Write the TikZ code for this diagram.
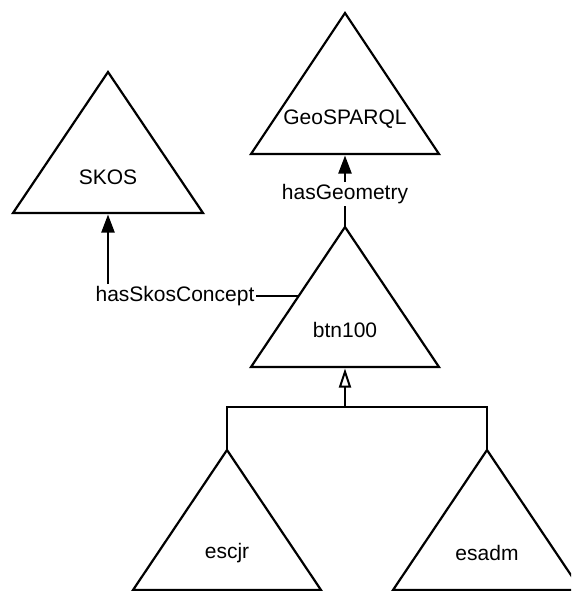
\documentclass[tikz,border=0pt]{standalone}
\usepackage{fontspec}
\setmainfont{Liberation Sans}
\usetikzlibrary{arrows.meta}
\begin{document}
\begin{tikzpicture}[x=1pt,y=-1pt,
  line width=2.2pt, line join=miter,
  tri/.style={draw=black, line width=2.2pt},
  lbl/.style={font=\fontsize{21}{25}\selectfont, inner sep=1pt},
  assoc/.style={-{Triangle[length=18pt,width=13pt]}},
  gen/.style={-{Triangle[open,length=19pt,width=12pt,line width=2pt]}}]
  \useasboundingbox (0,0) rectangle (571,591);
  \clip (0,0) rectangle (571,591);

  % triangles (apex, base corners)
  \draw[tri] (108,72) -- (203,213) -- (13,213) -- cycle;
  \draw[tri] (345,13) -- (439,154) -- (251,154) -- cycle;
  \draw[tri] (345,227) -- (439,367) -- (251,367) -- cycle;
  \draw[tri] (227,450) -- (321,590) -- (133,590) -- cycle;
  \draw[tri] (487,450) -- (581,590) -- (393,590) -- cycle;

  % anchor points on the triangles
  \coordinate (skos-base) at (108,214.5);
  \coordinate (geo-base)  at (345,155.5);
  \coordinate (btn-top)   at (345,227);
  \coordinate (btn-base)  at (345,368.5);
  \coordinate (btn-side)  at (298.5,296);
  \coordinate (escjr-top) at (227,450);
  \coordinate (esadm-top) at (487,450);
  \coordinate (bar-mid)   at (345,407);

  % titles
  \node[lbl] (skos)  at (108,177) {SKOS};
  \node[lbl] (geo)   at (345,119) {GeoSPARQL};
  \node[lbl] (btn)   at (345,330) {btn100};
  \node[lbl] (escjr) at (227,553) {escjr};
  \node[lbl] (esadm) at (487,553) {esadm};

  % property labels
  \node[lbl] (hasgeo) at (345,194) {hasGeometry};
  \node[lbl] (hasskos) at (175,296) {hasSkosConcept};

  % hasGeometry: btn100 -> GeoSPARQL
  \draw (btn-top) -- (hasgeo.south);
  \draw[assoc] (hasgeo.north) -- (geo-base);

  % hasSkosConcept: btn100 -> SKOS
  \draw (btn-side) -- (hasskos.east);
  \draw[assoc] (hasskos.north -| skos-base) -- (skos-base);

  % generalisation: escjr, esadm -> btn100
  \draw (escjr-top) |- (esadm-top |- bar-mid) -- (esadm-top);
  \draw[gen] (bar-mid) -- (btn-base);
\end{tikzpicture}
\end{document}
